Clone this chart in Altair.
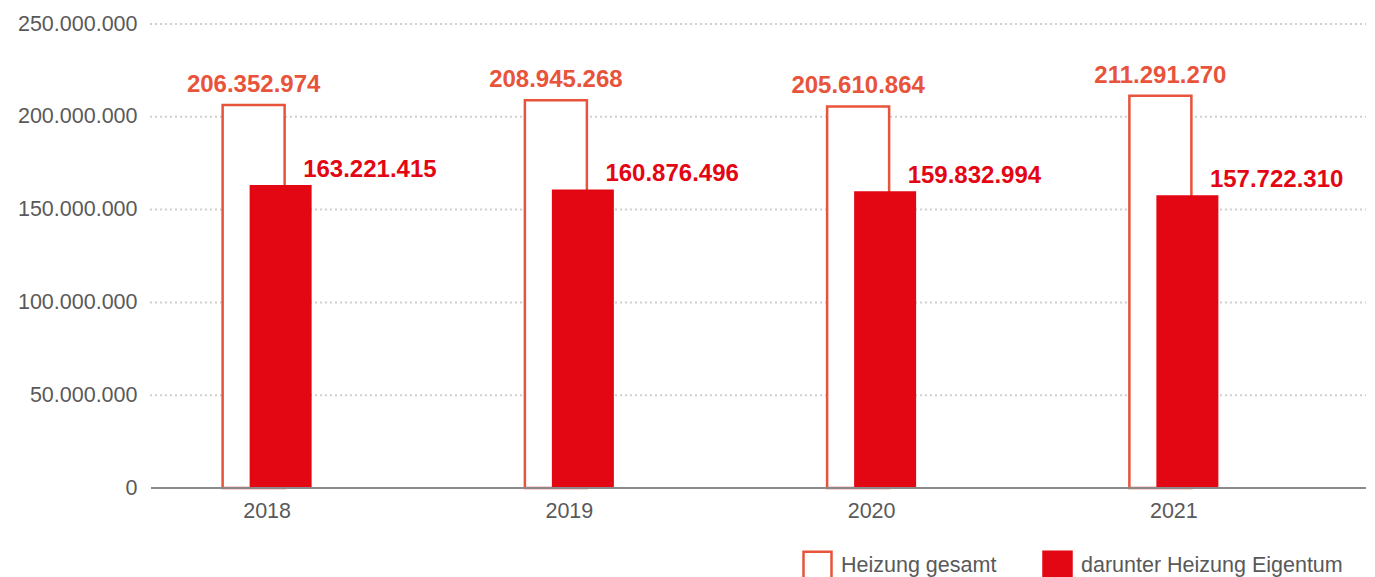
import altair as alt
import pandas as pd

years = ["2018", "2019", "2020", "2021"]
gesamt = [206352974, 208945268, 205610864, 211291270]
eigentum = [163221415, 160876496, 159832994, 157722310]
series_names = ["Heizung gesamt", "darunter Heizung Eigentum"]
y_ticks = [0, 50000000, 100000000, 150000000, 200000000, 250000000]

ORANGE = "#e8543b"
RED = "#e30613"
GREY = "#595959"
FONT = "Liberation Sans"
PLOT_W = 1216


def de(v):
    return f"{v:,}".replace(",", ".")


rows = []
for y, g, e in zip(years, gesamt, eigentum):
    rows.append({"year": y, "series": series_names[0], "value": g, "label": de(g)})
    rows.append({"year": y, "series": series_names[1], "value": e, "label": de(e)})
df = pd.DataFrame(rows)
grid_df = pd.DataFrame({"value": [t for t in y_ticks if t > 0]})

x_enc = alt.X(
    "year:N",
    sort=years,
    scale=alt.Scale(range=[-34, 1175], paddingInner=0, paddingOuter=0),
    axis=alt.Axis(
        title=None, domain=False, ticks=False, tickSize=0, labelAngle=0,
        labelPadding=12, labelFontSize=21.5, labelColor=GREY, labelFont=FONT,
        grid=False,
    ),
)
y_scale = alt.Scale(domain=[0, 250000000], nice=False)
y_enc = alt.Y(
    "value:Q",
    scale=y_scale,
    axis=alt.Axis(
        title=None, domain=False, ticks=False, tickSize=0, values=y_ticks,
        labelExpr="replace(format(datum.value, ','), regexp(',', 'g'), '.')",
        labelPadding=13, labelFontSize=21.5, labelColor=GREY, labelFont=FONT,
        labelBaseline="middle", grid=False,
    ),
)
fill_enc = alt.Fill(
    "series:N",
    scale=alt.Scale(domain=series_names, range=["#ffffff", RED]),
    legend=alt.Legend(title=None),
)
stroke_enc = alt.Stroke(
    "series:N",
    scale=alt.Scale(domain=series_names, range=[ORANGE, RED]),
    legend=alt.Legend(title=None),
)

base = alt.Chart(df)

grid = alt.Chart(grid_df).mark_rule(
    color="#cfcfcf", strokeWidth=2, strokeDash=[2, 3]
).encode(
    y=y_enc,
    x=alt.value(0), x2=alt.value(PLOT_W + 2),
)

outline = base.transform_filter(
    alt.datum.series == series_names[0]
).mark_bar(width=62, xOffset=-13.5, strokeWidth=2.5).encode(
    x=x_enc, y=y_enc, fill=fill_enc, stroke=stroke_enc
)

filled = base.transform_filter(
    alt.datum.series == series_names[1]
).mark_bar(width=62, xOffset=13.5, strokeWidth=0).encode(
    x=x_enc, y=y_enc, fill=fill_enc, stroke=stroke_enc
)

baseline = base.mark_rule(color="#8a8a8a", strokeWidth=1.5).encode(
    y=alt.datum(0), x=alt.value(1), x2=alt.value(PLOT_W + 2)
)

label_g = base.transform_filter(
    alt.datum.series == series_names[0]
).mark_text(
    dx=-13.5, dy=-13, align="center", baseline="alphabetic",
    font=FONT, fontSize=24, fontWeight="bold", color=ORANGE,
).encode(x=x_enc, y=y_enc, text="label:N")

label_e = base.transform_filter(
    alt.datum.series == series_names[1]
).mark_text(
    dx=36, dy=-8.5, align="left", baseline="alphabetic",
    font=FONT, fontSize=24, fontWeight="bold", color=RED,
).encode(x=x_enc, y=y_enc, text="label:N")

chart = alt.layer(grid, outline, filled, baseline, label_g, label_e).properties(
    width=PLOT_W,
    height=464,
    autosize=alt.AutoSizeParams(type="none"),
    padding={"left": 142, "top": 16, "right": 0, "bottom": 89},
).configure_view(stroke=None).configure_legend(
    orient="none",
    legendX=652,
    legendY=526,
    direction="horizontal",
    labelFontSize=21.5,
    labelFont=FONT,
    labelColor=GREY,
    labelLimit=400,
    symbolType="square",
    symbolSize=784,
    symbolStrokeWidth=2.5,
    labelOffset=8,
    columnPadding=41,
)

chart.save("out.html", embed_options={"renderer": "svg", "actions": False})
